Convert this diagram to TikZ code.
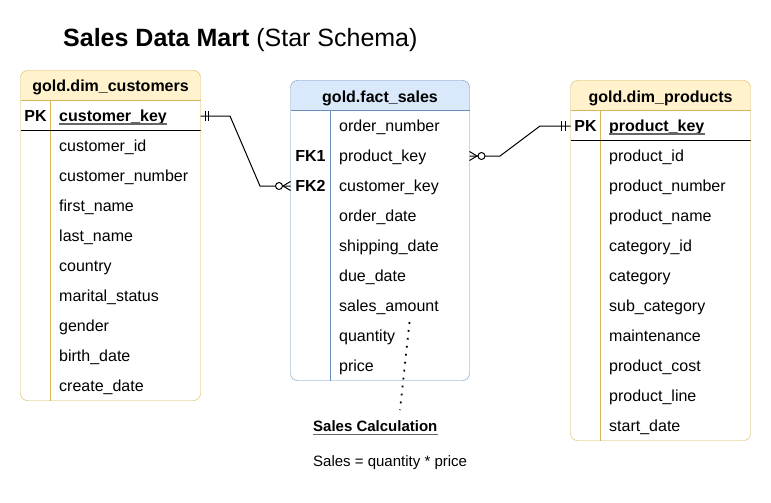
\documentclass[tikz,border=0pt]{standalone}
\usepackage{fontspec}
\setmainfont{Liberation Sans}
\usetikzlibrary{calc}
\definecolor{yfill}{HTML}{FFF2CC}
\definecolor{ystroke}{HTML}{D6B656}
\definecolor{bfill}{HTML}{DAE8FC}
\definecolor{bstroke}{HTML}{6C8EBF}
\definecolor{ulgray}{HTML}{666666}
\begin{document}
\begin{tikzpicture}[x=1pt,y=-1pt,
  rowtext/.style={anchor=west, inner sep=0, text height=12pt, text depth=1pt, font=\fontsize{16}{19}\selectfont},
  keytext/.style={anchor=center, inner sep=0, text height=12pt, text depth=1pt, font=\bfseries\fontsize{16}{19}\selectfont},
  headtext/.style={anchor=center, inner sep=0, text height=12.5pt, text depth=0.5pt, font=\bfseries\fontsize{16}{19}\selectfont},
  tblframe/.style={inner sep=0, outer sep=0},
  conn/.style={line width=1pt, black},
  uline/.style={ulgray, line width=1.3pt},
  dotline/.style={line width=1.8pt, dash pattern=on 1.8pt off 6.2pt},
]
\useasboundingbox (0,0) rectangle (771,503);
\fill[white] (0,0) rectangle (771,503);

% Title
\node[anchor=base west, inner sep=0, font=\fontsize{25}{29}\selectfont] (title) at (63,47) {\textbf{Sales Data Mart} (Star Schema)};

% ---------- dim_customers ----------
\node[tblframe, minimum width=180pt, minimum height=330pt] (cust) at (110.5,235.5) {};
\begin{scope}
  \clip[rounded corners=7pt] (cust.north west) rectangle (cust.south east);
  \fill[yfill] (cust.north west) rectangle ($(cust.north east)+(0,30)$);
\end{scope}
\draw[ystroke] ($(cust.north west)+(0,30)$) -- ($(cust.north east)+(0,30)$);
\draw[ystroke] ($(cust.north west)+(30,30)$) -- ($(cust.south west)+(30,0)$);
\draw[black] ($(cust.north west)+(0,60)$) -- ($(cust.north east)+(0,60)$);
\draw[ystroke, rounded corners=7pt] (cust.north west) rectangle (cust.south east);
\node[headtext] (custh) at (110.5,86) {gold.dim\_customers};
\node[keytext] (custpk) at (35.5,116) {PK};
\node[rowtext] (ckey) at (59,116) {\textbf{customer\_key}};
\draw[uline] ($(ckey.base west)+(0,2.5)$) -- ($(ckey.base east)+(0,2.5)$);
\foreach \t [count=\i] in {customer\_id, customer\_number, first\_name, last\_name, country, marital\_status, gender, birth\_date, create\_date}
  \node[rowtext] (c\i) at (59,116+30*\i) {\t};

% ---------- fact_sales ----------
\node[tblframe, minimum width=179pt, minimum height=300pt] (fact) at (380,230.5) {};
\begin{scope}
  \clip[rounded corners=7pt] (fact.north west) rectangle (fact.south east);
  \fill[bfill] (fact.north west) rectangle ($(fact.north east)+(0,30)$);
\end{scope}
\draw[bstroke] ($(fact.north west)+(0,30)$) -- ($(fact.north east)+(0,30)$);
\draw[bstroke] ($(fact.north west)+(40,30)$) -- ($(fact.south west)+(40,0)$);
\draw[bstroke, rounded corners=7pt] (fact.north west) rectangle (fact.south east);
\node[headtext] (facth) at (380,96) {gold.fact\_sales};
\node[keytext] (fk1) at (310.5,156) {FK1};
\node[keytext] (fk2) at (310.5,186) {FK2};
\foreach \t [count=\i] in {order\_number, product\_key, customer\_key, order\_date, shipping\_date, due\_date, sales\_amount, quantity, price}
  \node[rowtext] (f\i) at (339,96+30*\i) {\t};

% ---------- dim_products ----------
\node[tblframe, minimum width=180pt, minimum height=360pt] (prod) at (660.5,260.5) {};
\begin{scope}
  \clip[rounded corners=7pt] (prod.north west) rectangle (prod.south east);
  \fill[yfill] (prod.north west) rectangle ($(prod.north east)+(0,30)$);
\end{scope}
\draw[ystroke] ($(prod.north west)+(0,30)$) -- ($(prod.north east)+(0,30)$);
\draw[ystroke] ($(prod.north west)+(30,30)$) -- ($(prod.south west)+(30,0)$);
\draw[black] ($(prod.north west)+(0,60)$) -- ($(prod.north east)+(0,60)$);
\draw[ystroke, rounded corners=7pt] (prod.north west) rectangle (prod.south east);
\node[headtext] (prodh) at (660.5,96) {gold.dim\_products};
\node[keytext] (prodpk) at (585.5,126) {PK};
\node[rowtext] (pkey) at (609,126) {\textbf{product\_key}};
\draw[uline] ($(pkey.base west)+(0,2.5)$) -- ($(pkey.base east)+(0,2.5)$);
\foreach \t [count=\i] in {product\_id, product\_number, product\_name, category\_id, category, sub\_category, maintenance, product\_cost, product\_line, start\_date}
  \node[rowtext] (p\i) at (609,126+30*\i) {\t};

% ---------- connector customers -> fact ----------
\draw[conn] (cust.east |- ckey) -- ($(cust.east |- ckey)+(29.5,0)$) -- ($(fact.west |- fk2)+(-30.5,0)$) -- (fact.west |- fk2);
\draw[conn] ($(cust.east |- ckey)+(4.5,-5)$) -- ($(cust.east |- ckey)+(4.5,5)$);
\draw[conn] ($(cust.east |- ckey)+(8,-5)$) -- ($(cust.east |- ckey)+(8,5)$);
\draw[conn, fill=white] ($(fact.west |- fk2)+(-11.5,0)$) circle (3.5pt);
\draw[conn] ($(fact.west |- fk2)+(0,-4.5)$) -- ($(fact.west |- fk2)+(-7.5,0)$) -- ($(fact.west |- fk2)+(0,4.5)$);

% ---------- connector fact -> products ----------
\draw[conn] (fact.east |- fk1) -- ($(fact.east |- fk1)+(30.5,0)$) -- ($(prod.west |- pkey)+(-30.5,0)$) -- (prod.west |- pkey);
\draw[conn] ($(prod.west |- pkey)+(-5.5,-5)$) -- ($(prod.west |- pkey)+(-5.5,5)$);
\draw[conn] ($(prod.west |- pkey)+(-9,-5)$) -- ($(prod.west |- pkey)+(-9,5)$);
\draw[conn, fill=white] ($(fact.east |- fk1)+(12,0)$) circle (3.5pt);
\draw[conn] ($(fact.east |- fk1)+(0,-4.5)$) -- ($(fact.east |- fk1)+(7.5,0)$) -- ($(fact.east |- fk1)+(0,4.5)$);

% ---------- note ----------
\node[anchor=base west, inner sep=0, font=\bfseries\fontsize{15}{18}\selectfont] (calc) at (313,431.5) {Sales Calculation};
\draw[uline] ($(calc.base west)+(0,3)$) -- ($(calc.base east)+(0,3)$);
\node[anchor=base west, inner sep=0, font=\fontsize{15}{18}\selectfont] (formula) at (313,466.5) {Sales = quantity * price};
\coordinate (dtop) at (409.5,322);
\coordinate (dbot) at (400,410);
\draw[dotline] (dtop) -- (dbot);
\end{tikzpicture}
\end{document}
